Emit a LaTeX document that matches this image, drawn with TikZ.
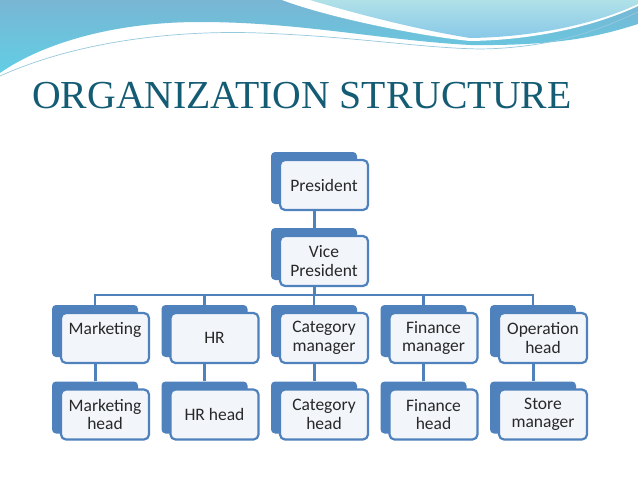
\documentclass[tikz,border=0pt]{standalone}
\usepackage{fontspec}
\usepackage{xcolor}
\newfontfamily\titlefont{Liberation Serif}
\newfontfamily\boxfont{Carlito}
\definecolor{orgblue}{RGB}{79,129,189}
\definecolor{boxfill}{RGB}{242,245,250}
\definecolor{boxtext}{RGB}{40,40,40}
\definecolor{titleteal}{RGB}{20,92,116}
\definecolor{waveblue}{RGB}{120,182,212}
\definecolor{wavecyan}{RGB}{98,206,228}
\definecolor{aquatop}{RGB}{176,225,232}
\definecolor{aquabot}{RGB}{136,200,232}
\definecolor{waveline}{RGB}{150,200,222}

\begin{document}
\begin{tikzpicture}[
    x=1pt, y=-1pt,
    back/.style={fill=orgblue, rounded corners=4pt, minimum width=86pt, minimum height=52pt, inner sep=0pt},
    box/.style={draw=orgblue, line width=2.2pt, fill=boxfill, rounded corners=5pt, minimum width=88pt, minimum height=50pt, inner sep=0pt, align=center, text=boxtext, font={\boxfont\fontsize{17.5}{18.5}\selectfont}},
    link/.style={draw=orgblue, line width=3pt},
    barlink/.style={draw=orgblue, line width=2.3pt}
]

\useasboundingbox (0,0) rectangle (638,479);
\fill[white] (0,0) rectangle (638,479);

% Wave
\shade[top color=waveblue, bottom color=wavecyan] (0,0) -- (638,0) -- (638,24) .. controls (600,36) and (560,46) .. (470,45) .. controls (380,40) and (300,22) .. (200,22) .. controls (110,22) and (40,45) .. (0,73) -- cycle;
\fill[white] (282,0) .. controls (330,18) and (420,36) .. (470,41) .. controls (540,40) and (600,24) .. (638,6) -- (638,0) -- cycle;
\shade[top color=aquatop, bottom color=aquabot] (310,0) .. controls (360,15) and (420,30) .. (470,38) .. controls (540,37) and (600,22) .. (638,4) -- (638,0) -- cycle;
\draw[waveline, line width=0.7pt] (0,76) .. controls (80,40) and (180,30) .. (260,33) .. controls (360,37) and (420,48) .. (480,49) .. controls (560,48) and (610,25) .. (638,12);

% Titulo
\node[anchor=base west, inner sep=0pt, text=titleteal, font={\titlefont\fontsize{39.7}{44}\selectfont}] (title) at (32,108) {ORGANIZATION STRUCTURE};

% Nivel superior
\node[back] (spres) at (314,178) {};
\node[box] (pres) at (324,185) {President};
\node[back] (svp) at (314,254) {};
\node[box] (vp) at (324,261) {Vice\\President};

% Jefes de area
\node[back] (smkt1) at (95,331) {};
\node[box] (mkt1) at (105,338) {Marketing\\\phantom{head}};
\node[back] (shr1) at (204.5,331) {};
\node[box] (hr1) at (214.5,338) {HR};
\node[back] (scat1) at (314,331) {};
\node[box] (cat1) at (324,338) {Category\\manager};
\node[back] (sfin1) at (423.5,331) {};
\node[box] (fin1) at (433.5,338) {Finance\\manager};
\node[back] (sops1) at (533,331) {};
\node[box] (ops1) at (543,338) {Operation\\head};

% Segundo nivel
\node[back] (smkt2) at (95,407.5) {};
\node[box] (mkt2) at (105,414.5) {Marketing\\head};
\node[back] (shr2) at (204.5,407.5) {};
\node[box] (hr2) at (214.5,414.5) {HR head};
\node[back] (scat2) at (314,407.5) {};
\node[box] (cat2) at (324,414.5) {Category\\head};
\node[back] (sfin2) at (423.5,407.5) {};
\node[box] (fin2) at (433.5,414.5) {Finance\\head};
\node[back] (sops2) at (533,407.5) {};
\node[box] (ops2) at (543,414.5) {Store\\manager};

% Conectores
\coordinate (bar) at (0,295);
\draw[link] (spres |- pres.south) -- (svp.north);
\draw[link] (svp |- vp.south) -- (svp |- bar);
\draw[barlink] (smkt1.north) -- (smkt1 |- bar) -- (sops1 |- bar) -- (sops1.north);
\draw[barlink] (shr1.north) -- (shr1 |- bar);
\draw[barlink] (scat1.north) -- (scat1 |- bar);
\draw[barlink] (sfin1.north) -- (sfin1 |- bar);
\draw[link] (smkt1 |- mkt1.south) -- (smkt2.north);
\draw[link] (shr1 |- hr1.south) -- (shr2.north);
\draw[link] (scat1 |- cat1.south) -- (scat2.north);
\draw[link] (sfin1 |- fin1.south) -- (sfin2.north);
\draw[link] (sops1 |- ops1.south) -- (sops2.north);

\end{tikzpicture}
\end{document}
